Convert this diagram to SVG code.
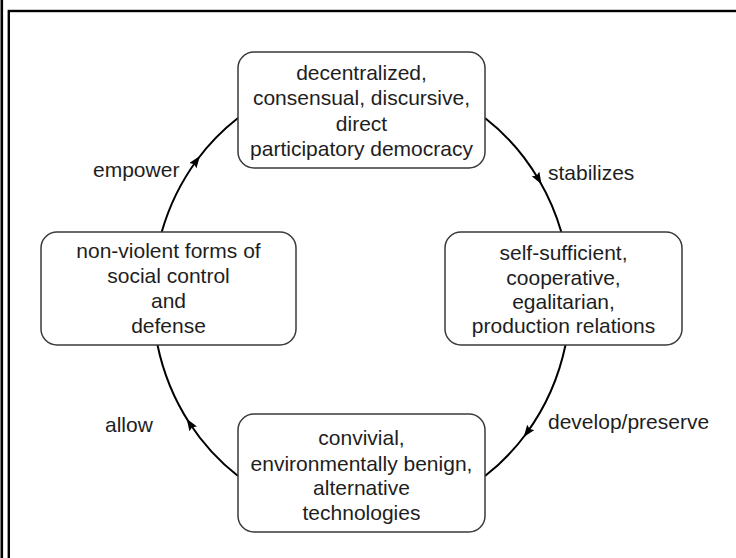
<svg xmlns="http://www.w3.org/2000/svg" width="736" height="558" viewBox="0 0 736 558">
<style>
.box{fill:#fff;stroke:#3a3a3a;stroke-width:1.5}
.t{font-family:"Liberation Sans",Arial,sans-serif;font-size:21px;fill:#1e1e1e;text-anchor:middle}
.lbl{font-family:"Liberation Sans",Arial,sans-serif;font-size:21px;fill:#1e1e1e}
.edge{fill:none;stroke:#000;stroke-width:2;marker-mid:url(#ah)}
</style>
<defs>
<marker id="ah" viewBox="0 0 12 9" refX="7" refY="4.5" markerWidth="12" markerHeight="9" markerUnits="userSpaceOnUse" orient="auto">
<path d="M0,0 L12,4.5 L0,9 L2,4.5 Z" fill="#000"/>
</marker>
</defs>
<rect width="736" height="558" fill="#fff"/>
<g id="frame" fill="none" stroke="#000">
<line x1="1.8" y1="0" x2="1.8" y2="558" stroke-width="2.6"/>
<rect x="8.8" y="11" width="740" height="560" stroke-width="2.4"/>
</g>
<g id="connectors">
<path class="edge" d="M485,118 A209,222 0 0 1 539,180 A209,222 0 0 1 561.3,232"/>
<path class="edge" d="M565.5,345 A209,222 0 0 1 526.7,433 A209,222 0 0 1 485,476"/>
<path class="edge" d="M238,476 A209,222 0 0 1 189.4,423 A209,222 0 0 1 157.5,345"/>
<path class="edge" d="M161.7,232 A209,222 0 0 1 197,160 A209,222 0 0 1 238,118"/>
<text class="lbl" x="548" y="180">stabilizes</text>
<text class="lbl" x="548" y="429">develop/preserve</text>
<text class="lbl" x="105" y="432">allow</text>
<text class="lbl" x="93" y="177">empower</text>
</g>
<g id="democracy">
<rect class="box" x="238" y="52" width="247" height="116" rx="16"/>
<text class="t" x="361.5" y="79.5">decentralized,</text>
<text class="t" x="361.5" y="105">consensual, discursive,</text>
<text class="t" x="361.5" y="130.5">direct</text>
<text class="t" x="361.5" y="156">participatory democracy</text>
</g>
<g id="production">
<rect class="box" x="445" y="232" width="237" height="113" rx="16"/>
<text class="t" x="563.5" y="260">self-sufficient,</text>
<text class="t" x="563.5" y="284.5">cooperative,</text>
<text class="t" x="563.5" y="309">egalitarian,</text>
<text class="t" x="563.5" y="333">production relations</text>
</g>
<g id="technologies">
<rect class="box" x="238" y="414" width="247" height="118" rx="16"/>
<text class="t" x="361.5" y="445">convivial,</text>
<text class="t" x="361.5" y="470.5">environmentally benign,</text>
<text class="t" x="361.5" y="495">alternative</text>
<text class="t" x="361.5" y="519.5">technologies</text>
</g>
<g id="control">
<rect class="box" x="41" y="232" width="255" height="113" rx="16"/>
<text class="t" x="168.5" y="258">non-violent forms of</text>
<text class="t" x="168.5" y="283">social control</text>
<text class="t" x="168.5" y="307.5">and</text>
<text class="t" x="168.5" y="333">defense</text>
</g>
</svg>
